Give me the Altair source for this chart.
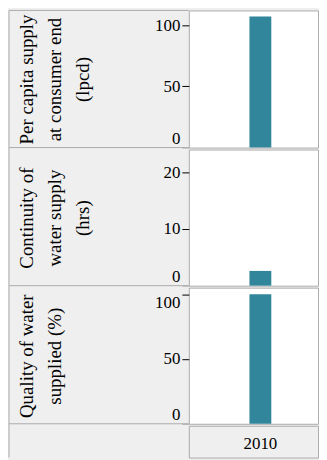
import altair as alt
import pandas as pd

years = ["2010"]
indicators = [
    ["Per capita supply", "at consumer end", "(lpcd)"],
    ["Continuity of", "water supply", "(hrs)"],
    ["Quality of water", "supplied (%)"],
]
values = [107, 2.6, 100]
axis_max = [112, 24, 105]
axis_ticks = [[0, 50, 100], [0, 10, 20], [0, 50, 100]]

FONT = "Liberation Serif"
BAR = "#31869b"
LINE = "#ababab"
BG = "#efefef"
LEFT = 181
W = 130
SHIFT = 7
heights = [138, 137, 137]
HEADER_H = 32

panels = []
for i in range(3):
    df = pd.DataFrame({"year": years, "value": [values[i]]})
    h = heights[i]
    bars = alt.Chart(df).mark_bar(color=BAR, size=22, xOffset=SHIFT).encode(
        x=alt.X("year:N", axis=None),
        y=alt.Y(
            "value:Q",
            scale=alt.Scale(domain=[0, axis_max[i]], nice=False),
            axis=alt.Axis(
                values=axis_ticks[i],
                title=indicators[i],
                titleX=-LEFT + 9,
                titleY=h / 2,
                titleAngle=270,
                titleAlign="center",
                titleBaseline="top",
                titleLineHeight=28,
                titleFont=FONT,
                titleFontSize=19,
                titleFontWeight="normal",
                titleColor="black",
                labelFont=FONT,
                labelFontSize=17,
                labelColor="black",
                labelPadding=2,
                labelFlush=10,
                tickSize=7,
                tickColor={"condition": {"test": "datum.value == 0", "value": LINE}, "value": "black"},
                domain=False,
                grid=False,
            ),
        ),
    )
    hline = alt.Chart(df).mark_rule(color=LINE).encode(
        x=alt.value(-LEFT), x2=alt.value(0), y=alt.value(h)
    )
    vline = alt.Chart(df).mark_rule(color=LINE).encode(
        x=alt.value(-LEFT), y=alt.value(0 if i == 0 else -2), y2=alt.value(h)
    )
    layers = [bars, hline, vline]
    if i == 0:
        tline = alt.Chart(df).mark_rule(color=LINE).encode(
            x=alt.value(-LEFT), x2=alt.value(0), y=alt.value(0)
        )
        layers.append(tline)
    panels.append(alt.layer(*layers).properties(width=W, height=h))

hdf = pd.DataFrame({"year": years})
htext = alt.Chart(hdf).mark_text(
    font=FONT, fontSize=17, color="black", baseline="middle", dx=SHIFT
).encode(
    x=alt.X("year:N", axis=None),
    y=alt.value(18),
    text="year:N",
)
hv = alt.Chart(hdf).mark_rule(color=LINE).encode(
    x=alt.value(-LEFT), y=alt.value(-2), y2=alt.value(HEADER_H)
)
header = alt.layer(htext, hv).properties(
    width=W, height=HEADER_H, view=alt.ViewBackground(fill=BG, stroke=LINE)
)

chart = (
    alt.vconcat(*panels, header, spacing=2, bounds="flush")
    .properties(background=BG, padding=0)
    .configure(font=FONT)
    .configure_view(fill="white", stroke=LINE)
)

chart.save("out.html", embed_options={"renderer": "svg", "actions": False})
